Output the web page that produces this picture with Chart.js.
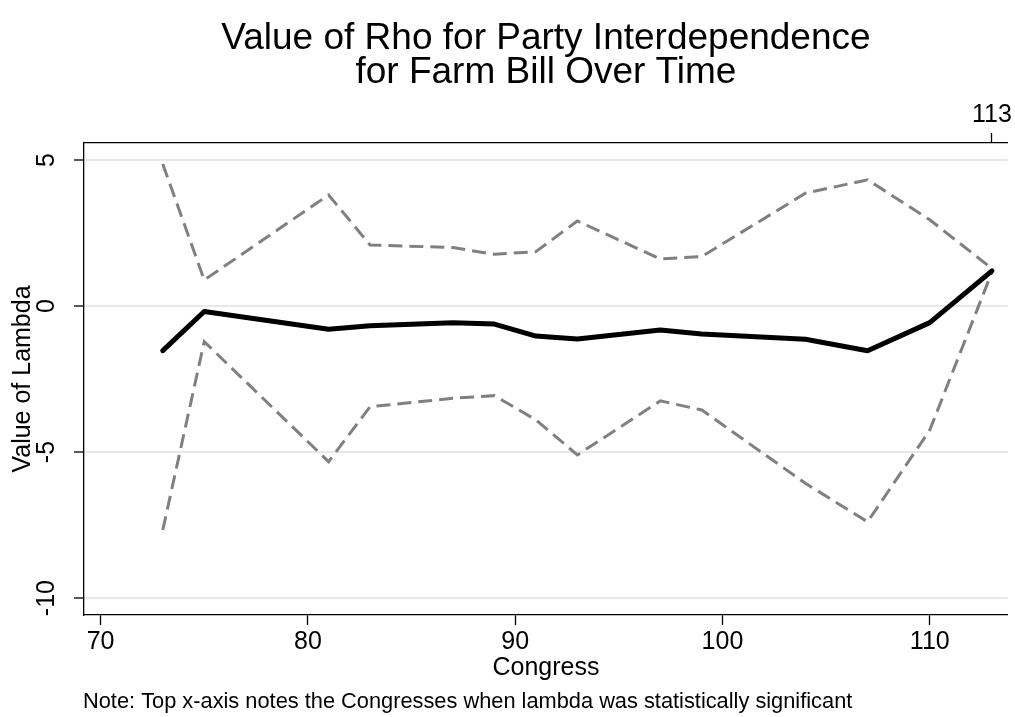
<!DOCTYPE html>
<html>
<head>
<meta charset="utf-8">
<script src="https://cdn.jsdelivr.net/npm/chart.js@4.4.1/dist/chart.umd.min.js"></script>
<style>
  html, body { margin: 0; padding: 0; background: #fff; }
</style>
</head>
<body>
<canvas id="rhoChart" width="1015" height="717"></canvas>
<script>
// Congress numbers and estimates
const congress = [73, 75, 81, 83, 87, 89, 91, 93, 97, 99, 104, 107, 110, 113];
const lambda   = [-1.53, -0.19, -0.80, -0.68, -0.57, -0.62, -1.03, -1.13, -0.82, -0.96, -1.14, -1.53, -0.57, 1.20];
const upperCI  = [4.86, 0.89, 3.80, 2.09, 2.00, 1.77, 1.86, 2.91, 1.61, 1.69, 3.86, 4.32, 2.95, 1.28];
const lowerCI  = [-7.67, -1.22, -5.33, -3.45, -3.16, -3.07, -3.90, -5.10, -3.25, -3.56, -6.07, -7.39, -4.25, 1.16];

const xTicks = [70, 80, 90, 100, 110];
const yTicks = [5, 0, -5, -10];
const significantCongresses = [113];

const FONT = '"Liberation Sans", Arial, Helvetica, sans-serif';
const noteText = 'Note: Top x-axis notes the Congresses when lambda was statistically significant';

const toPoints = (vals) => congress.map((c, i) => ({ x: c, y: vals[i] }));

// rotated y tick labels + footnote
const extraText = {
    id: 'extraText',
    afterDraw(chart) {
        const ctx = chart.ctx;
        const yScale = chart.scales.y;
        ctx.save();
        ctx.fillStyle = '#000';
        ctx.font = '25px ' + FONT;
        ctx.textAlign = 'center';
        ctx.textBaseline = 'middle';
        yTicks.forEach(v => {
            ctx.save();
            ctx.translate(yScale.right - 37, yScale.getPixelForValue(v));
            ctx.rotate(-Math.PI / 2);
            ctx.fillText(String(v), 0, 0);
            ctx.restore();
        });
        ctx.font = '21.8px ' + FONT;
        ctx.textAlign = 'left';
        ctx.fillText(noteText, chart.chartArea.left - 1, 702);
        ctx.restore();
    }
};

const ctx = document.getElementById('rhoChart');
new Chart(ctx, {
    type: 'line',
    data: {
        datasets: [
            {
                label: 'Lambda',
                data: toPoints(lambda),
                borderColor: '#000',
                borderWidth: 5,
                borderJoinStyle: 'round',
                borderCapStyle: 'round',
                pointRadius: 0,
                tension: 0,
                order: 0
            },
            {
                label: 'Upper',
                data: toPoints(upperCI),
                borderColor: '#808080',
                borderWidth: 3,
                borderDash: [14, 7],
                pointRadius: 0,
                tension: 0,
                order: 1
            },
            {
                label: 'Lower',
                data: toPoints(lowerCI),
                borderColor: '#808080',
                borderWidth: 3,
                borderDash: [14, 7],
                pointRadius: 0,
                tension: 0,
                order: 1
            }
        ]
    },
    options: {
        responsive: false,
        animation: false,
        devicePixelRatio: 1,
        layout: { padding: { top: 0, right: 7, bottom: 0, left: 0 } },
        plugins: {
            legend: { display: false },
            tooltip: { enabled: false },
            title: {
                display: true,
                fullSize: false,
                text: ['Value of Rho for Party Interdependence', 'for Farm Bill Over Time'],
                color: '#000',
                font: { family: FONT, size: 37, weight: 'normal', lineHeight: 0.92 },
                padding: { top: 22, bottom: 0 }
            }
        },
        scales: {
            x: {
                type: 'linear',
                position: 'bottom',
                min: 69.2,
                max: 113.77,
                afterBuildTicks: s => { s.ticks = xTicks.map(v => ({ value: v })); },
                afterFit: s => { s.height = 102; },
                ticks: {
                    color: '#000',
                    font: { family: FONT, size: 25 },
                    padding: 2,
                    maxRotation: 0,
                    autoSkip: false
                },
                grid: {
                    drawOnChartArea: false,
                    drawTicks: true,
                    tickLength: 10,
                    tickColor: '#000',
                    tickWidth: 1.3
                },
                border: { display: true, color: '#000', width: 1.3 },
                title: {
                    display: true,
                    text: 'Congress',
                    color: '#000',
                    font: { family: FONT, size: 25 },
                    padding: { top: 34, bottom: 34 }
                }
            },
            xTop: {
                type: 'linear',
                position: 'top',
                min: 69.2,
                max: 113.77,
                afterBuildTicks: s => { s.ticks = significantCongresses.map(v => ({ value: v })); },
                afterFit: s => { s.height = 143 - 22 - 2 * 37 * 0.92; },
                ticks: {
                    color: '#000',
                    font: { family: FONT, size: 25 },
                    padding: 3,
                    maxRotation: 0,
                    autoSkip: false
                },
                grid: {
                    drawOnChartArea: false,
                    drawTicks: true,
                    tickLength: 10,
                    tickColor: '#000',
                    tickWidth: 1.3
                },
                border: { display: true, color: '#000', width: 1.3 }
            },
            y: {
                type: 'linear',
                position: 'left',
                min: -10.58,
                max: 5.58,
                afterBuildTicks: s => { s.ticks = yTicks.map(v => ({ value: v })); },
                afterFit: s => { s.width = 84; },
                ticks: { display: false },
                grid: {
                    color: '#e8e8e8',
                    lineWidth: 2,
                    drawTicks: true,
                    tickLength: 10,
                    tickColor: '#000',
                    tickWidth: 1.3
                },
                border: { display: true, color: '#000', width: 1.3 },
                title: {
                    display: true,
                    text: 'Value of Lambda',
                    color: '#000',
                    font: { family: FONT, size: 25 },
                    padding: { top: 8, bottom: 0 }
                }
            }
        }
    },
    plugins: [extraText]
});
</script>
</body>
</html>
